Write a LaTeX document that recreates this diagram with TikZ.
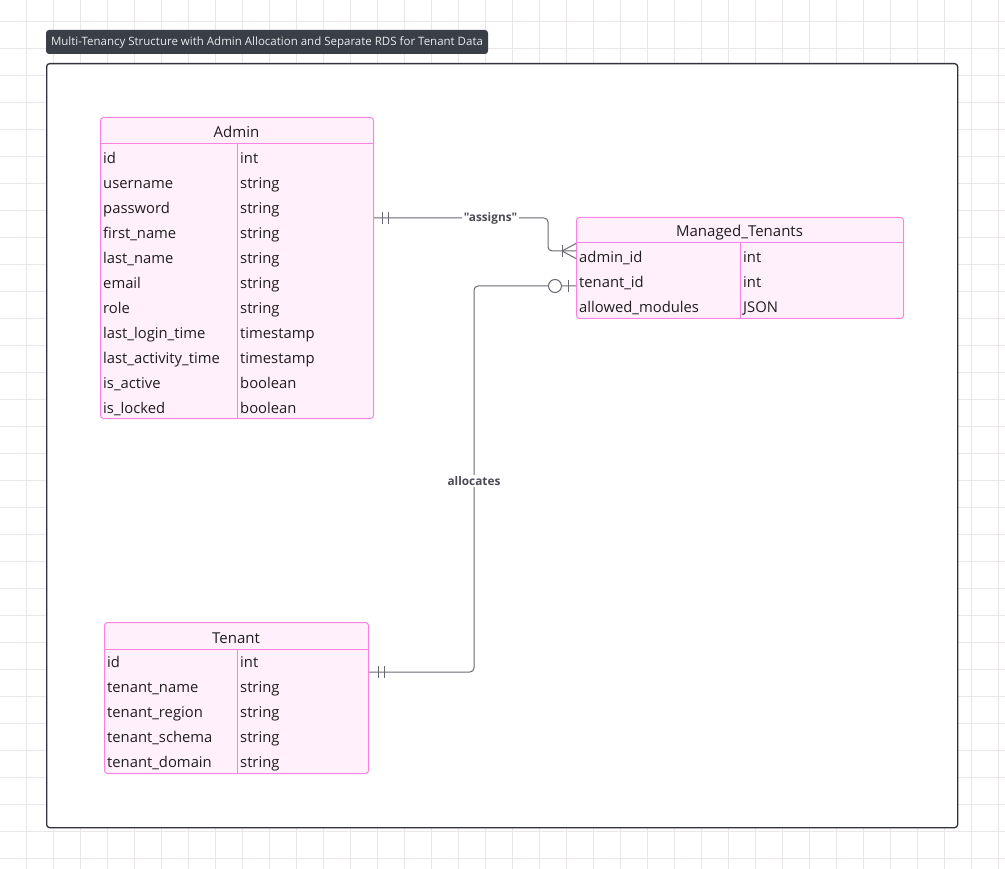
\documentclass[tikz,border=0pt]{standalone}
\usepackage{fontspec}
\setmainfont{Open Sans}[Ligatures=TeXOff]
\usetikzlibrary{calc}
\definecolor{pinkb}{RGB}{250,130,225}
\definecolor{pinkf}{RGB}{255,240,251}
\definecolor{gridc}{RGB}{234,230,234}
\definecolor{tagc}{RGB}{58,63,71}
\definecolor{tagt}{RGB}{232,234,237}
\definecolor{framec}{RGB}{50,50,58}
\definecolor{linec}{RGB}{105,105,115}
\definecolor{txt}{RGB}{30,30,30}
\definecolor{lbl}{RGB}{75,75,85}
\begin{document}
\begin{tikzpicture}[x=1pt,y=-1pt,
  tbl/.style={draw=pinkb, fill=pinkf, rounded corners=3pt, line width=1pt, anchor=north west, inner sep=0pt},
  sep/.style={draw=pinkb, line width=1pt},
  cell/.style={anchor=base west, inner sep=0pt, font=\fontsize{14.8}{17}\selectfont, text=txt},
  hdr/.style={anchor=base, inner sep=0pt, font=\fontsize{15}{17}\selectfont, text=txt},
  conn/.style={draw=linec, line width=1pt},
  lab/.style={fill=white, inner sep=1.5pt, font=\bfseries\fontsize{11.8}{13}\selectfont, text=lbl}]
\useasboundingbox (0,0) rectangle (1005,869);
\fill[white] (0,0) rectangle (1005,869);
% grid
\begin{scope}
\clip (0,0) rectangle (1005,869);
\foreach \k in {0,...,37} \draw[gridc, line width=0.8pt] ({-0.3+27*\k},0) -- ({-0.3+27*\k},869);
\foreach \k in {-1,...,32} \draw[gridc, line width=0.8pt] (0,{21.5+27*\k}) -- (1005,{21.5+27*\k});
\end{scope}
% title tag
\node[fill=tagc, rounded corners=3pt, minimum width=442pt, minimum height=24pt, inner sep=0pt,
      text=tagt, font=\fontsize{11.5}{13}\selectfont] (title) at (267,42) {Multi-Tenancy Structure with Admin Allocation and Separate RDS for Tenant Data};
% frame
\node[draw=framec, fill=white, line width=1.3pt, rounded corners=3pt, anchor=north west,
      minimum width=911pt, minimum height=764pt, inner sep=0pt] (frame) at (46,63) {};
% Admin table
\node[tbl, minimum width=273pt, minimum height=301pt] (admin) at (100,117) {};
\draw[sep] (100,144) -- (373,144);
\draw[sep] (237,144) -- (237,418);
\node[hdr] (adminh) at (236.5,138) {Admin};
\foreach \n/\t [count=\i from 0] in {id/int, username/string, password/string, first\_name/string,
  last\_name/string, email/string, role/string, last\_login\_time/timestamp,
  last\_activity\_time/timestamp, is\_active/boolean, is\_locked/boolean} {
  \node[cell] (an\i) at (103,{163.5+25*\i}) {\n};
  \node[cell] (at\i) at (240,{163.5+25*\i}) {\t};
}
% Managed_Tenants table
\node[tbl, minimum width=327pt, minimum height=101pt] (mt) at (576,217) {};
\draw[sep] (576,243) -- (903,243);
\draw[sep] (740,243) -- (740,318);
\node[hdr] (mth) at (739.5,237) {Managed\_Tenants};
\foreach \n/\t [count=\i from 0] in {admin\_id/int, tenant\_id/int, allowed\_modules/JSON} {
  \node[cell] (mn\i) at (579,{262.5+25*\i}) {\n};
  \node[cell] (mtt\i) at (743,{262.5+25*\i}) {\t};
}
% Tenant table
\node[tbl, minimum width=264pt, minimum height=151pt] (tenant) at (104,622) {};
\draw[sep] (104,649) -- (368,649);
\draw[sep] (237,649) -- (237,773);
\node[hdr] (tenanth) at (236,643) {Tenant};
\foreach \n/\t [count=\i from 0] in {id/int, tenant\_name/string, tenant\_region/string,
  tenant\_schema/string, tenant\_domain/string} {
  \node[cell] (tn\i) at (107,{667.5+25*\i}) {\n};
  \node[cell] (tt\i) at (240,{667.5+25*\i}) {\t};
}
% connector: assigns
\coordinate (a1) at ($(admin.north east)+(0,101)$);
\coordinate (m1) at ($(mt.north west)+(0,34)$);
\draw[conn, rounded corners=4pt] (a1) -- (548,218) -- (548,251) -- (m1);
\draw[conn] ($(a1)+(8,-6)$) -- ($(a1)+(8,6)$);
\draw[conn] ($(a1)+(14,-6)$) -- ($(a1)+(14,6)$);
\draw[conn] ($(m1)+(-14,0)$) -- ($(m1)+(0,-7.5)$);
\draw[conn] ($(m1)+(-14,0)$) -- ($(m1)+(0,7.5)$);
\draw[conn] ($(m1)+(-14,-6)$) -- ($(m1)+(-14,6)$);
\node[lab] (assigns) at (490.5,218) {"assigns"};
% connector: allocates
\coordinate (m2) at ($(mt.north west)+(0,69)$);
\coordinate (t2) at ($(tenant.north east)+(0,50)$);
\draw[conn, rounded corners=4pt] (m2) -- (474,286) -- (474,672) -- (t2);
\draw[conn] ($(m2)+(-8,-6)$) -- ($(m2)+(-8,6)$);
\draw[conn, fill=white] ($(m2)+(-21,0)$) circle (6.5pt);
\draw[conn] ($(t2)+(9,-6)$) -- ($(t2)+(9,6)$);
\draw[conn] ($(t2)+(15,-6)$) -- ($(t2)+(15,6)$);
\node[lab] (allocates) at (474,481) {allocates};
\end{tikzpicture}
\end{document}
